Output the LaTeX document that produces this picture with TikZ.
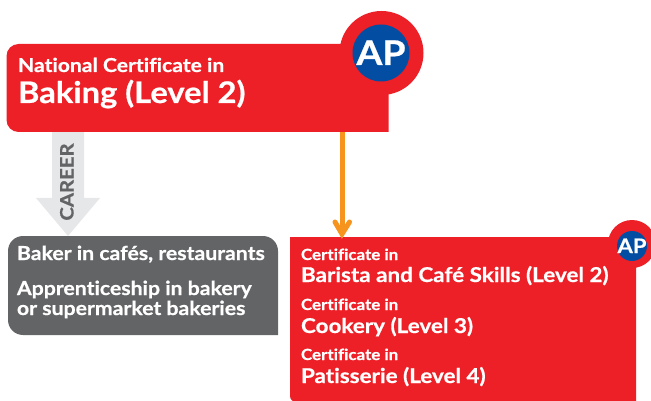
\documentclass[tikz,border=0pt]{standalone}
\usepackage{fontspec}
\setmainfont{Lato}[BoldFont={Lato Bold},BoldFeatures={FakeBold=0.7,FakeStretch=1.1,Ligatures=NoCommon}]
\definecolor{apred}{HTML}{ED1F27}
\definecolor{apblue}{HTML}{034EA2}
\definecolor{apgrey}{HTML}{636466}
\definecolor{aplight}{HTML}{E6E7E8}
\definecolor{aporange}{HTML}{F7941D}
\tikzset{
 x=1pt,y=-1pt,
 txt/.style={anchor=base west,inner sep=0pt,outer sep=0pt,text=white,font=\bfseries},
}
\newcommand{\fs}[1]{\fontsize{#1}{#1}\selectfont}
\begin{document}
\begin{tikzpicture}
\useasboundingbox (0,0) rectangle (651,401);
\clip (0,0) rectangle (651,401);
\coordinate (topNW) at (6.5,44); \coordinate (topSE) at (388.5,132);
\coordinate (grNW) at (8,236); \coordinate (grSE) at (278,335);
\coordinate (careerTip) at (68,236);
% grey arrow
\fill[aplight] (52,132) -- (84,132) -- (84,198) -- (100,198) -- (careerTip) -- (36,198) -- (52,198) -- cycle;
\node[anchor=base,rotate=90,inner sep=0pt,text=apgrey,font=\bfseries\fs{18.5}] (career) at (73.5,182) {CAREER};
% top box
\fill[apred,rounded corners=12] (topSE) -- (6.5,132) -- (topNW) [sharp corners] -- (388.5,44) -- cycle;
\fill[apred] (381.5,53) circle[radius=42];
\fill[apblue] (381,53) circle[radius=28.5];
\node[anchor=base,inner sep=0pt,text=white,font=\bfseries\fs{34}] (ap1) at (381,65) {AP};
\node[txt,font=\bfseries\fs{19.2}] (t1) at (18,72) {National Certificate in};
\node[txt,font=\bfseries\fs{29.7}] (t2) at (18,103) {Baking (Level 2)};
% grey box
\fill[apgrey,rounded corners=15] (grNW) -- (278,236) -- (278,335) [sharp corners] -- (278,335) [rounded corners=15] -- (8,335) -- cycle;
\node[txt,font=\bfseries\fs{19.3}] (g1) at (17,260) {Baker in cafés, restaurants};
\node[txt,font=\bfseries\fs{19.3}] (g2) at (17,295) {Apprenticeship in bakery};
\node[txt,font=\bfseries\fs{19.3}] (g3) at (17,315) {or supermarket bakeries};
% red box
\fill[apred] (636,237) -- (290,237) [rounded corners=6] -- (290,402) [sharp corners] -- (636,402) -- cycle;
\fill[apred] (632,244) circle[radius=24];
\fill[apblue] (632,246) circle[radius=15];
\node[anchor=base,inner sep=0pt,text=white,font=\bfseries\fs{20}] (ap2) at (632,253) {AP};
\node[txt,font=\bfseries\fs{15.4}] (c1) at (301,260) {Certificate in};
\node[txt,font=\bfseries\fs{20.4}] (c2) at (301,282) {Barista and Café Skills (Level 2)};
\node[txt,font=\bfseries\fs{15.4}] (c3) at (301,310) {Certificate in};
\node[txt,font=\bfseries\fs{20.4}] (c4) at (301,333) {Cookery (Level 3)};
\node[txt,font=\bfseries\fs{15.4}] (c5) at (301,360) {Certificate in};
\node[txt,font=\bfseries\fs{20.4}] (c6) at (301,383) {Patisserie (Level 4)};
% orange arrow
\coordinate (oTop) at (342,132); \coordinate (oTip) at (342,237);
\draw[aporange,line width=5] (oTop) -- (342,232);
\draw[aporange,line width=5,line cap=round,line join=miter] (335,222) -- (342,234) -- (349.5,222);
\end{tikzpicture}
\end{document}
